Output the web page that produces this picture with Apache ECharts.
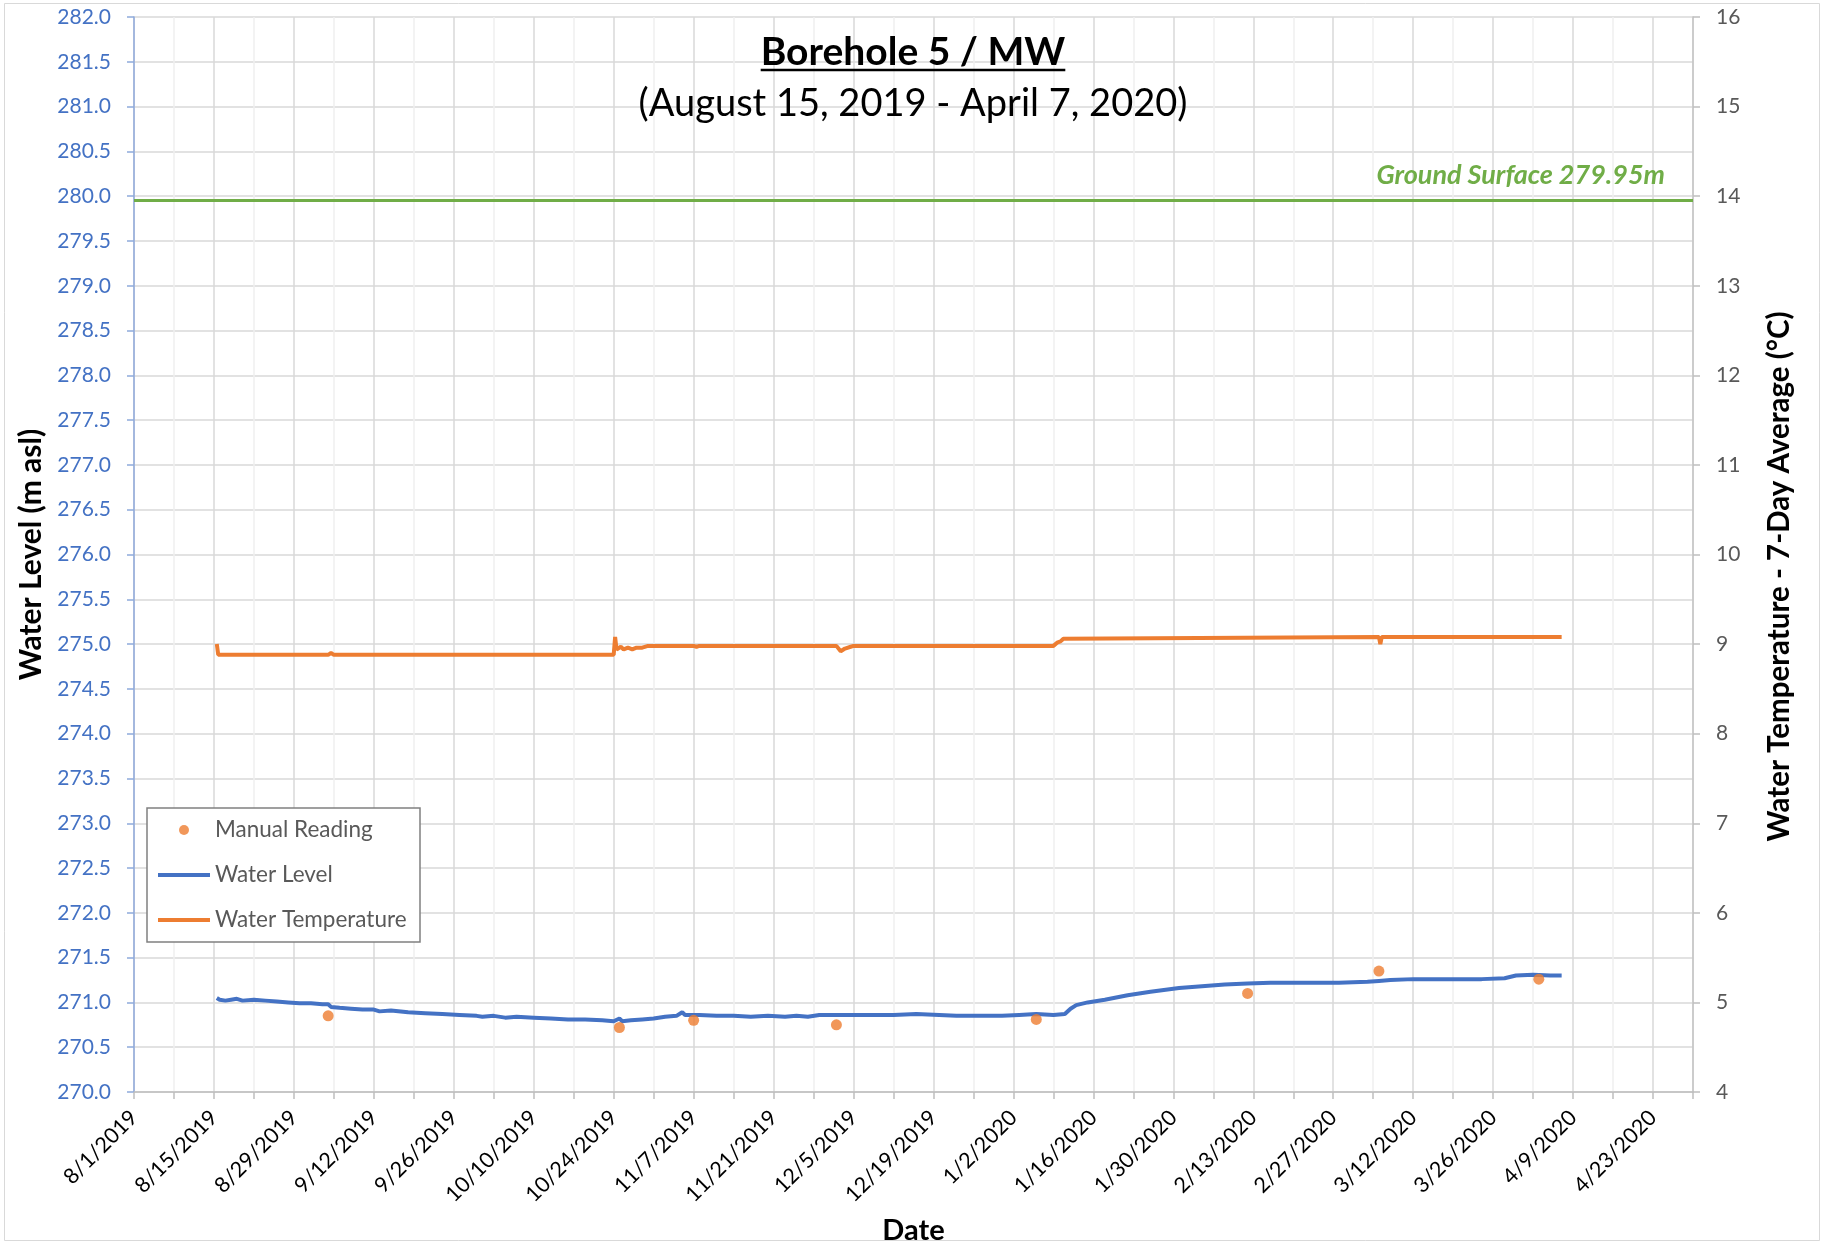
<!DOCTYPE html>
<html>
<head>
<meta charset="utf-8">
<script src="https://cdn.jsdelivr.net/npm/echarts@6/dist/echarts.min.js"></script>
<style>html,body{margin:0;padding:0;background:#fff}#c{width:1824px;height:1244px}</style>
</head>
<body>
<div id="c"></div>
<script>
// ---------------- DATA ----------------
const titleText = 'Borehole 5 / MW';
const subtitleText = '(August 15, 2019 - April 7, 2020)';
const groundSurface = 279.95;

const xTickLabels = ['8/1/2019','8/15/2019','8/29/2019','9/12/2019','9/26/2019','10/10/2019','10/24/2019',
  '11/7/2019','11/21/2019','12/5/2019','12/19/2019','1/2/2020','1/16/2020','1/30/2020','2/13/2020',
  '2/27/2020','3/12/2020','3/26/2020','4/9/2020','4/23/2020'];

const levelDates = ['2019-08-15 12','2019-08-16','2019-08-17','2019-08-18','2019-08-19','2019-08-20','2019-08-22',
  '2019-08-24','2019-08-26','2019-08-28','2019-08-30','2019-09-01','2019-09-03','2019-09-04','2019-09-04 12',
  '2019-09-06','2019-09-08','2019-09-10','2019-09-12','2019-09-13','2019-09-15','2019-09-18','2019-09-21',
  '2019-09-24','2019-09-27','2019-09-30','2019-10-01','2019-10-03','2019-10-05','2019-10-07','2019-10-10',
  '2019-10-13','2019-10-16','2019-10-19','2019-10-22','2019-10-24','2019-10-25','2019-10-25 12','2019-10-27',
  '2019-10-29','2019-10-31','2019-11-02','2019-11-04','2019-11-05','2019-11-05 12','2019-11-08','2019-11-11',
  '2019-11-14','2019-11-17','2019-11-20','2019-11-23','2019-11-25','2019-11-27','2019-11-29','2019-12-01',
  '2019-12-04','2019-12-08','2019-12-12','2019-12-16','2019-12-20','2019-12-23','2019-12-27','2019-12-31',
  '2020-01-03','2020-01-06','2020-01-09','2020-01-11','2020-01-12','2020-01-13','2020-01-15','2020-01-18',
  '2020-01-22','2020-01-26','2020-01-31','2020-02-04','2020-02-08','2020-02-12','2020-02-16','2020-02-20',
  '2020-02-24','2020-02-28','2020-03-04','2020-03-06','2020-03-08','2020-03-12','2020-03-16','2020-03-20',
  '2020-03-24','2020-03-28','2020-03-30','2020-04-02','2020-04-05','2020-04-07'];
const levelValues = [271.05,271.03,271.02,271.03,271.04,271.02,271.03,
  271.02,271.01,271.00,270.99,270.99,270.98,270.98,270.95,
  270.94,270.93,270.92,270.92,270.90,270.91,270.89,270.88,
  270.87,270.86,270.85,270.84,270.85,270.83,270.84,270.83,
  270.82,270.81,270.81,270.80,270.79,270.82,270.79,270.80,
  270.81,270.82,270.84,270.85,270.89,270.86,270.86,270.85,
  270.85,270.84,270.85,270.84,270.85,270.84,270.86,270.86,
  270.86,270.86,270.86,270.87,270.86,270.85,270.85,270.85,
  270.86,270.87,270.86,270.87,270.93,270.97,271.00,271.03,
  271.08,271.12,271.16,271.18,271.20,271.21,271.22,271.22,
  271.22,271.22,271.23,271.24,271.25,271.26,271.26,271.26,
  271.26,271.27,271.30,271.31,271.30,271.30];

const tempDates = ['2019-08-15 12','2019-08-15 18','2019-09-04','2019-09-04 12','2019-09-05','2019-10-24',
  '2019-10-24 06','2019-10-24 12','2019-10-25 06','2019-10-25 18','2019-10-26 12','2019-10-27 06','2019-10-28',
  '2019-10-29','2019-10-30','2019-11-07','2019-11-07 12','2019-11-08','2019-12-02','2019-12-02 18','2019-12-03 12',
  '2019-12-04 12','2019-12-05','2020-01-09','2020-01-09 18','2020-01-10 06','2020-01-10 18','2020-01-11',
  '2020-03-06','2020-03-06 06','2020-03-06 12','2020-04-07'];
const tempValues = [9.00,8.88,8.88,8.90,8.88,8.88,
  9.08,8.94,8.97,8.94,8.96,8.94,8.96,
  8.96,8.98,8.98,8.97,8.98,8.98,8.92,8.95,
  8.97,8.98,8.98,9.02,9.03,9.06,9.08,
  9.08,9.00,9.08,9.08];

const manualDates = ['2019-09-04','2019-10-25','2019-11-07','2019-12-02','2020-01-06','2020-02-12','2020-03-06','2020-04-03'];
const manualValues = [270.85,270.72,270.80,270.75,270.81,271.10,271.35,271.26];

// ---------------- HELPERS ----------------
const START = Date.UTC(2019, 7, 1);
function dayOf(s) {
  const parts = s.split(' ');
  const ymd = parts[0].split('-').map(Number);
  const h = parts[1] ? Number(parts[1]) : 0;
  return (Date.UTC(ymd[0], ymd[1] - 1, ymd[2], h) - START) / 86400000;
}
const pairs = (ds, vs) => ds.map((d, i) => [dayOf(d), vs[i]]);
const FONT = 'Lato';
const mctx = document.createElement('canvas').getContext('2d');
function textW(t, f) { mctx.font = f; return mctx.measureText(t).width; }

const titleSize = 39;
const titleW = textW(titleText, 'bold ' + titleSize + 'px ' + FONT);
const legendFont = 22.5;
const legendPadRight = Math.max(6, 274 - 11 - 52 - 6 - textW('Water Temperature', legendFont + 'px ' + FONT));
const centerX = 913;
const lineIcon = 'path://M0,0H52V4H0Z';

const chart = echarts.init(document.getElementById('c'), null, {renderer: 'canvas'});
chart.setOption({
  animation: false,
  backgroundColor: '#fff',
  textStyle: {fontFamily: FONT},
  grid: {left: 134, right: 131, top: 17, bottom: 152, containLabel: false, outerBoundsMode: 'none'},
  graphic: [
    {type: 'rect', silent: true, z: -10, shape: {x: 4.5, y: 3.5, width: 1815, height: 1237},
      style: {fill: 'none', stroke: '#d9d9d9', lineWidth: 1}},
    {type: 'text', silent: true, z: 100, x: centerX, y: 52,
      style: {text: titleText, fontFamily: FONT, fontSize: titleSize, fontWeight: 'bold', fill: '#000',
        textAlign: 'center', textVerticalAlign: 'middle'}},
    {type: 'line', silent: true, z: 100,
      shape: {x1: centerX - titleW / 2, y1: 70, x2: centerX + titleW / 2, y2: 70},
      style: {stroke: '#000', lineWidth: 2.5}},
    {type: 'text', silent: true, z: 100, x: centerX, y: 104,
      style: {text: subtitleText, fontFamily: FONT, fontSize: 38, fill: '#000',
        textAlign: 'center', textVerticalAlign: 'middle'}}
  ],
  legend: {
    orient: 'vertical', left: 147, top: 808,
    padding: [10, legendPadRight, 10, 11],
    itemGap: 21, itemWidth: 52, itemHeight: 10, itemTextGap: 6, symbolKeepAspect: true,
    borderColor: '#808080', borderWidth: 1.5, backgroundColor: '#fff',
    textStyle: {fontSize: legendFont, color: '#595959', lineHeight: 24, fontFamily: FONT},
    data: [{name: 'Manual Reading', icon: 'circle'},
      {name: 'Water Level', icon: lineIcon},
      {name: 'Water Temperature', icon: lineIcon}]
  },
  xAxis: {
    type: 'value', min: 0, max: 273, interval: 7,
    name: 'Date', nameLocation: 'middle', nameGap: 124,
    nameTextStyle: {fontSize: 29, fontWeight: 'bold', color: '#000', fontFamily: FONT},
    axisLine: {show: true, onZero: false, lineStyle: {color: '#bfbfbf', width: 1.5}},
    axisTick: {show: true, length: 7, lineStyle: {color: '#bfbfbf', width: 1.5}},
    splitLine: {show: true, lineStyle: {color: ['#d9d9d9', '#efefef'], width: 1.5}},
    axisLabel: {
      rotate: 45, margin: 22, color: '#000', fontSize: 21.5, fontFamily: FONT,
      showMaxLabel: true, showMinLabel: true, hideOverlap: false,
      formatter: v => (v % 14 === 0 && xTickLabels[v / 14] !== undefined) ? xTickLabels[v / 14] : ''
    }
  },
  yAxis: [
    {
      type: 'value', position: 'left', min: 270, max: 282, interval: 0.5,
      name: 'Water Level (m asl)', nameLocation: 'middle', nameGap: 88, nameRotate: 90,
      nameTextStyle: {fontSize: 30, fontWeight: 'bold', color: '#000', fontFamily: FONT},
      axisLine: {show: true, lineStyle: {color: '#8faadc', width: 1.5}},
      axisTick: {show: true, length: 7, lineStyle: {color: '#8faadc', width: 1.5}},
      splitLine: {show: true, lineStyle: {color: '#d9d9d9', width: 1.5}},
      axisLabel: {color: '#4472c4', fontSize: 21, margin: 23, fontFamily: FONT, formatter: v => v.toFixed(1)}
    },
    {
      type: 'value', position: 'right', min: 4, max: 16, interval: 1,
      name: 'Water Temperature - 7-Day Average (°C)', nameLocation: 'middle', nameGap: 71, nameRotate: 90,
      nameTextStyle: {fontSize: 29.5, fontWeight: 'bold', color: '#000', fontFamily: FONT, padding: [0, 44, 0, 0]},
      axisLine: {show: true, lineStyle: {color: '#bfbfbf', width: 1.5}},
      axisTick: {show: true, length: 7, lineStyle: {color: '#bfbfbf', width: 1.5}},
      splitLine: {show: false},
      axisLabel: {color: '#595959', fontSize: 21, margin: 23, fontFamily: FONT}
    }
  ],
  series: [
    {
      name: 'Manual Reading', type: 'scatter', yAxisIndex: 0, z: 5,
      symbol: 'circle', symbolSize: 11,
      itemStyle: {color: '#ed7d31'},
      data: pairs(manualDates, manualValues)
    },
    {
      name: 'Water Level', type: 'line', yAxisIndex: 0, z: 3,
      symbol: 'none', showSymbol: false,
      lineStyle: {color: '#4472c4', width: 4}, itemStyle: {color: '#4472c4'},
      data: pairs(levelDates, levelValues),
      markLine: {
        silent: true, symbol: 'none', animation: false,
        lineStyle: {color: '#70ad47', width: 3, type: 'solid'},
        label: {
          show: true, position: 'insideEndTop', distance: [28, 12],
          formatter: 'Ground Surface ' + groundSurface + 'm',
          color: '#70ad47', fontWeight: 'bold', fontStyle: 'italic', fontSize: 27, fontFamily: FONT
        },
        data: [{yAxis: groundSurface}]
      }
    },
    {
      name: 'Water Temperature', type: 'line', yAxisIndex: 1, z: 3,
      symbol: 'none', showSymbol: false,
      lineStyle: {color: '#ed7d31', width: 4}, itemStyle: {color: '#ed7d31'},
      data: pairs(tempDates, tempValues)
    }
  ]
});
</script>
</body>
</html>
